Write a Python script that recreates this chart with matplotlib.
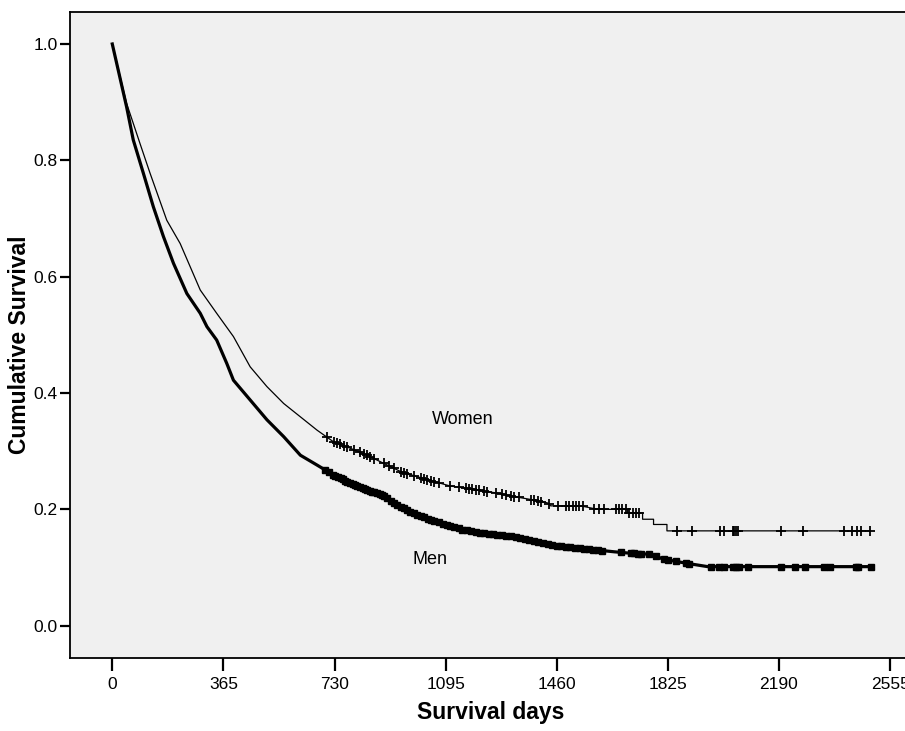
import numpy as np
import matplotlib.pyplot as plt

plt.rcParams['font.family'] = ['Liberation Sans', 'DejaVu Sans']

# Kaplan-Meier curves (days, cumulative survival)
women_t = [0, 47, 91, 124, 179, 223, 256, 289, 343, 398, 453, 508, 563, 618,
           673, 727, 782, 837, 892, 947, 1002, 1056, 1111, 1166, 1210, 1265,
           1320, 1374, 1430, 1440, 1539, 1594, 1693, 1693, 1742, 1742, 1778,
           1778, 1822, 1822, 2488]
women_s = [1.0, 0.898, 0.829, 0.778, 0.697, 0.657, 0.617, 0.577, 0.537, 0.497,
           0.445, 0.411, 0.382, 0.359, 0.336, 0.316, 0.305, 0.293, 0.279, 0.265,
           0.256, 0.248, 0.240, 0.236, 0.232, 0.228, 0.222, 0.217, 0.211, 0.206,
           0.206, 0.200, 0.200, 0.194, 0.194, 0.183, 0.183, 0.174, 0.174, 0.163,
           0.163]

men_t = [0, 47, 69, 102, 135, 168, 201, 245, 289, 311, 343, 376, 398, 453, 508,
         563, 618, 673, 727, 782, 837, 881, 903, 936, 990, 1045, 1100, 1155,
         1210, 1265, 1320, 1374, 1430, 1484, 1539, 1594, 1649, 1703, 1759, 1786,
         1802, 1846, 1890, 1956, 2493]
men_s = [1.0, 0.892, 0.835, 0.778, 0.720, 0.669, 0.623, 0.571, 0.537, 0.514,
         0.491, 0.451, 0.422, 0.388, 0.354, 0.325, 0.293, 0.276, 0.259, 0.245,
         0.233, 0.226, 0.219, 0.207, 0.193, 0.182, 0.173, 0.1645, 0.160, 0.156,
         0.153, 0.147, 0.140, 0.136, 0.133, 0.130, 0.127, 0.1245, 0.123, 0.120,
         0.116, 0.111, 0.107, 0.1015, 0.1015]

# censored observations (days)
women_cens = [705, 727, 738, 749, 760, 771, 793, 815, 826, 837, 848, 859, 892,
              908, 925, 947, 958, 969, 991, 1013, 1024, 1035, 1046, 1057, 1073,
              1111, 1139, 1161, 1172, 1183, 1194, 1205, 1221, 1232, 1260, 1281,
              1292, 1309, 1320, 1336, 1375, 1386, 1397, 1408, 1435, 1463, 1490,
              1501, 1512, 1523, 1534, 1545, 1583, 1600, 1616, 1654, 1665, 1676,
              1687, 1698, 1709, 1720, 1731, 1855, 1904, 1996, 2008, 2038, 2043,
              2049, 2054, 2197, 2268, 2403, 2431, 2447, 2460, 2488]
men_cens = [700, 712, 725, 733, 741, 750, 757, 766, 772, 781, 790, 798, 805,
            813, 822, 830, 838, 846, 853, 861, 870, 878, 886, 893, 902, 915, 925,
            936, 948, 957, 968, 979, 990, 1002, 1013, 1025, 1036, 1047, 1058,
            1072, 1085, 1098, 1110, 1124, 1138, 1150, 1165, 1180, 1195, 1208,
            1222, 1237, 1250, 1265, 1280, 1294, 1310, 1325, 1340, 1356, 1370,
            1385, 1400, 1415, 1430, 1446, 1460, 1475, 1490, 1505, 1520, 1536,
            1550, 1565, 1580, 1595, 1610, 1671, 1703, 1714, 1726, 1736, 1764,
            1786, 1813, 1824, 1852, 1884, 1895, 1967, 1994, 2011, 2038, 2049,
            2060, 2088, 2197, 2244, 2276, 2338, 2359, 2444, 2450, 2493]

xticks = [0, 365, 730, 1095, 1460, 1825, 2190, 2555]
yticks = [0.0, 0.2, 0.4, 0.6, 0.8, 1.0]

fig = plt.figure(figsize=(9.05, 7.31), dpi=100)
ax = fig.add_axes([0.0773, 0.1003, 0.955, 0.8833])
ax.set_facecolor('#f0f0f0')

ax.plot(women_t, women_s, color='black', lw=0.9)
ax.plot(men_t, men_s, color='black', lw=2.3)
ax.plot(women_cens, np.interp(women_cens, women_t, women_s), '+',
        color='black', ms=6.5, mew=1.3)
ax.plot(men_cens, np.interp(men_cens, men_t, men_s), 's',
        color='black', ms=4.5)

ax.text(1152, 0.3545, 'Women', fontsize=13, ha='center', va='center')
ax.text(1044, 0.113, 'Men', fontsize=13, ha='center', va='center')

ax.set_xlim(-139, 2700)
ax.set_ylim(-0.055, 1.055)
ax.set_xticks(xticks)
ax.set_xticklabels([str(v) for v in xticks])
ax.set_yticks(yticks)
ax.set_yticklabels(['%.1f' % v for v in yticks])
ax.tick_params(axis='x', direction='out', length=9, width=1.6,
               labelsize=12.5, pad=5)
ax.tick_params(axis='y', direction='out', length=7.5, width=1.6,
               labelsize=12.5, pad=1.5)

for s in ax.spines.values():
    s.set_linewidth(1.3)

ax.set_xlabel('Survival days', fontsize=16.5, fontweight='bold')
ax.xaxis.set_label_coords(0.487, -0.067)
ax.set_ylabel('Cumulative Survival', fontsize=16.5, fontweight='bold')
ax.yaxis.set_label_coords(-0.045, 0.485)

fig.savefig('out.png', dpi=100)
